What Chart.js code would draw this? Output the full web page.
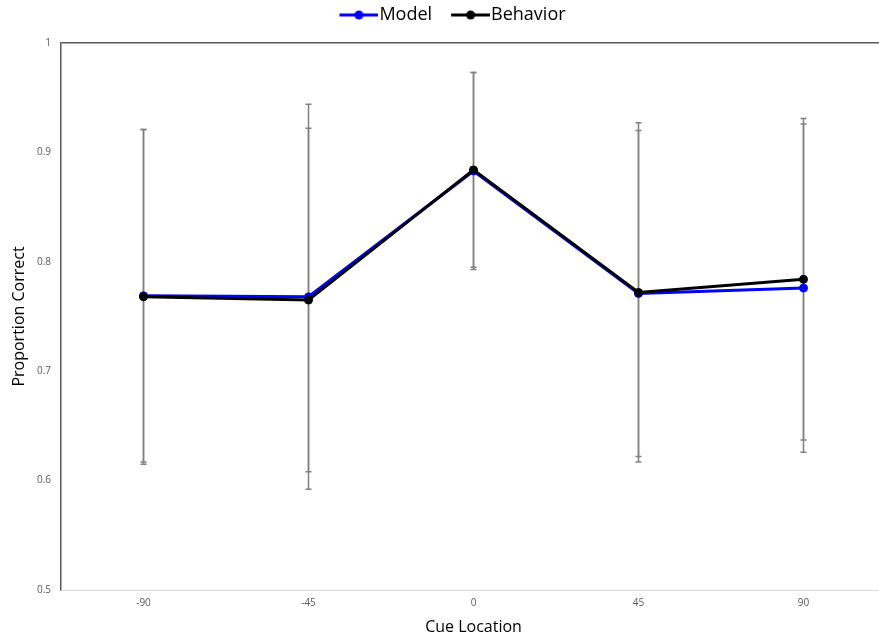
<!DOCTYPE html>
<html lang="en">
<head>
    <meta charset="UTF-8">
    <title>Proportion Correct by Cue Location</title>
    <script src="https://cdn.jsdelivr.net/npm/chart.js"></script>
    <style>
        body { margin: 0; background: #fff; overflow: hidden; }
        #wrap { width: 900px; height: 641px; position: relative; }
    </style>
</head>
<body>
    <div id="wrap"><canvas id="chart"></canvas></div>

    <script>
        // Data
        const cueLocations = ['-90', '-45', '0', '45', '90'];
        const modelValues = [0.769, 0.768, 0.883, 0.771, 0.776];
        const modelErrors = [0.152, 0.176, 0.090, 0.149, 0.150];
        const behaviorValues = [0.768, 0.765, 0.884, 0.772, 0.784];
        const behaviorErrors = [0.153, 0.157, 0.089, 0.155, 0.147];
        const yTicks = [0.5, 0.6, 0.7, 0.8, 0.9, 1];

        const FONT = '"Open Sans", "Noto Sans", sans-serif';

        // legend marker: line with a dot, shifted right so it hugs the label text
        function legendMarker(color) {
            const c = document.createElement('canvas');
            c.width = 60; c.height = 12;
            const g = c.getContext('2d');
            g.strokeStyle = color; g.lineWidth = 3;
            g.beginPath(); g.moveTo(21, 6); g.lineTo(60, 6); g.stroke();
            g.fillStyle = color;
            g.beginPath(); g.arc(40.5, 6, 4.5, 0, Math.PI * 2); g.fill();
            return c;
        }
        const markers = [legendMarker('#0000ff'), legendMarker('#000000')];

        // error bars drawn behind the lines
        const errorBars = {
            id: 'errorBars',
            beforeDatasetsDraw(chart) {
                const ctx = chart.ctx, x = chart.scales.x, y = chart.scales.y;
                ctx.save();
                ctx.strokeStyle = '#808080';
                ctx.lineWidth = 1.5;
                chart.data.datasets.forEach(ds => {
                    ds.data.forEach((v, i) => {
                        const px = x.getPixelForValue(i);
                        const top = y.getPixelForValue(v + ds.errors[i]);
                        const bot = y.getPixelForValue(v - ds.errors[i]);
                        ctx.beginPath();
                        ctx.moveTo(px, top); ctx.lineTo(px, bot);
                        ctx.moveTo(px - 3, top); ctx.lineTo(px + 3, top);
                        ctx.moveTo(px - 3, bot); ctx.lineTo(px + 3, bot);
                        ctx.stroke();
                    });
                });
                ctx.restore();
            }
        };

        // leave room under the legend so the plot starts lower
        const legendGap = {
            id: 'legendGap',
            beforeLayout(chart) {
                const lg = chart.legend;
                if (lg && !lg._gapPatched) {
                    const fit = lg.fit;
                    lg.fit = function () { fit.call(this); this.height += 9; };
                    lg._gapPatched = true;
                }
            }
        };

        new Chart(document.getElementById('chart'), {
            type: 'line',
            data: {
                labels: cueLocations,
                datasets: [
                    { label: 'Model', data: modelValues, errors: modelErrors, borderColor: '#0000ff', backgroundColor: '#0000ff',
                      borderWidth: 3, pointRadius: 4, pointBorderWidth: 1, pointHoverRadius: 4, order: 1 },
                    { label: 'Behavior', data: behaviorValues, errors: behaviorErrors, borderColor: '#000000', backgroundColor: '#000000',
                      borderWidth: 3, pointRadius: 4, pointBorderWidth: 1, pointHoverRadius: 4, order: 0 }
                ]
            },
            options: {
                responsive: true,
                maintainAspectRatio: false,
                animation: false,
                layout: { padding: { left: 6, right: 14, top: 0, bottom: 0 } },
                plugins: {
                    tooltip: { enabled: false },
                    legend: {
                        position: 'top',
                        labels: {
                            usePointStyle: true,
                            pointStyleWidth: 44,
                            padding: 6,
                            color: '#000',
                            font: { family: FONT, size: 18 },
                            generateLabels(chart) {
                                const items = Chart.defaults.plugins.legend.labels.generateLabels(chart);
                                items.sort((a, b) => a.datasetIndex - b.datasetIndex);
                                items.forEach(it => { it.pointStyle = markers[it.datasetIndex]; });
                                return items;
                            }
                        }
                    }
                },
                scales: {
                    x: {
                        offset: true,
                        grid: { display: false, drawTicks: false },
                        border: { color: '#d9d9d9', width: 1 },
                        ticks: { color: '#595959', font: { family: FONT, size: 10 }, padding: 7 },
                        title: { display: true, text: 'Cue Location', color: '#000', font: { family: FONT, size: 16 }, padding: { top: 0 } },
                        afterFit(s) { s.height = 51; }
                    },
                    y: {
                        min: 0.5,
                        max: 1,
                        afterBuildTicks(s) { s.ticks = yTicks.map(v => ({ value: v })); },
                        grid: {
                            drawTicks: false,
                            color: c => c.tick && c.tick.value === 1 ? '#595959' : 'rgba(0,0,0,0)',
                            lineWidth: 1.5
                        },
                        border: { color: '#595959', width: 1.5 },
                        ticks: { color: '#595959', font: { family: FONT, size: 10 }, padding: 10,
                                 callback: v => String(v) },
                        title: { display: true, text: 'Proportion Correct', color: '#000', font: { family: FONT, size: 16 } },
                        afterFit(s) { s.width = 55; }
                    }
                }
            },
            plugins: [errorBars, legendGap]
        });
    </script>
</body>
</html>
